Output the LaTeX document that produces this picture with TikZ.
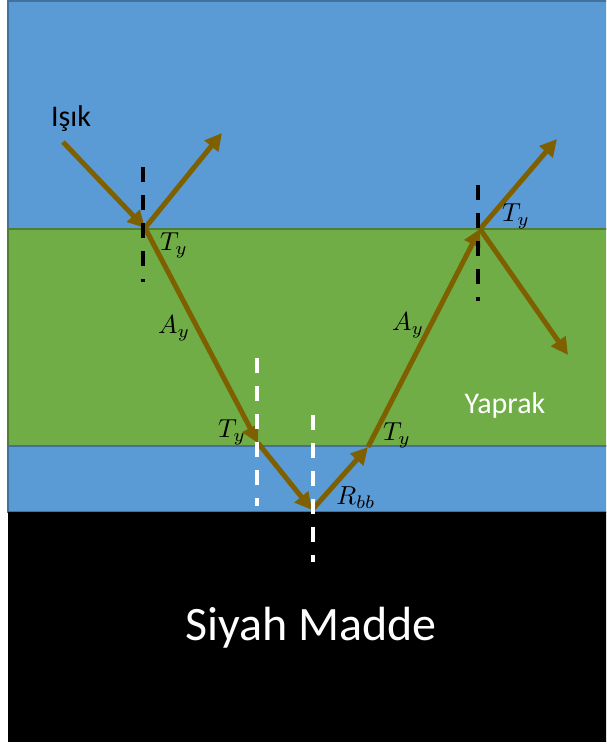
\documentclass[tikz,border=0pt]{standalone}
\usepackage{fontspec}
\setmainfont{Carlito}
\usetikzlibrary{arrows.meta,positioning}

\definecolor{skyblue}{HTML}{5B9BD5}
\definecolor{skyedge}{HTML}{41719C}
\definecolor{leafgreen}{HTML}{70AD47}
\definecolor{leafedge}{HTML}{507E32}
\definecolor{raybrown}{HTML}{7F6000}

\begin{document}
\begin{tikzpicture}[
    x=1pt, y=-1pt,
    water/.style={draw=skyedge, line width=1.5pt, fill=skyblue},
    leaf/.style={draw=leafedge, line width=1.5pt, fill=leafgreen},
    ray/.style={-{Triangle[length=17pt,width=17pt]}, line width=5pt, draw=raybrown},
    normal/.style={dash pattern=on 15pt off 13pt, line width=3.5pt},
    lbl/.style={font=\fontsize{30}{36}\selectfont, inner sep=0pt},
    sym/.style={font=\fontsize{10}{12}\selectfont, inner sep=0pt, scale=2.6, transform shape}
]
\clip (0,0) rectangle (606,744);

% layers
\path[water] (8,1) rectangle (612,229);
\path[leaf] (8,229) rectangle (612,446);
\path[water] (8,446) rectangle (612,512);
\path[draw=black, fill=black] (8,512) rectangle (612,741);

% ray points
\coordinate (src) at (63,142);
\coordinate (hit1) at (145,228);
\coordinate (refl1) at (222,133);
\coordinate (exit1) at (258,443);
\coordinate (bottom) at (312,510);
\coordinate (exit2) at (368,447);
\coordinate (hit2) at (480,229);
\coordinate (out1) at (557,139);
\coordinate (out2) at (568,355);

% normal ends
\coordinate (n1a) at (143,167);
\coordinate (n1b) at (143,282);
\coordinate (n2a) at (257,358);
\coordinate (n2b) at (257,506);
\coordinate (n3a) at (313,415);
\coordinate (n3b) at (313,562);
\coordinate (n4a) at (478,185);
\coordinate (n4b) at (478,301);

\draw[ray] (src) -- (hit1);
\draw[ray] (hit1) -- (refl1);
\draw[ray] (hit1) -- (exit1);
\draw[ray] (exit1) -- (bottom);
\draw[ray] (bottom) -- (exit2);
\draw[ray] (exit2) -- (hit2);
\draw[ray] (hit2) -- (out1);
\draw[ray] (hit2) -- (out2);

\draw[normal, black] (n1a) -- (n1b);
\draw[normal, white] (n2a) -- (n2b);
\draw[normal, white] (n3a) -- (n3b);
\draw[normal, black] (n4a) -- (n4b);

% labels
\node[lbl] (light) at (71,119) {Işık};
\node[lbl, text=white] (leafname) at (505,405) {Yaprak};
\node[font=\fontsize{48}{56}\selectfont, text=white, inner sep=0pt] (matter) at (311,628) {Siyah Madde};

\node[sym] (t1) at (174,245) {$T_y$};
\node[sym] (a1) at (174,328) {$A_y$};
\node[sym] (t2) at (232,432) {$T_y$};
\node[sym] (rbb) at (356,498) {$R_{bb}$};
\node[sym] (t3) at (397,435) {$T_y$};
\node[sym] (a2) at (408,325) {$A_y$};
\node[sym] (t4) at (516,216) {$T_y$};

\end{tikzpicture}
\end{document}
